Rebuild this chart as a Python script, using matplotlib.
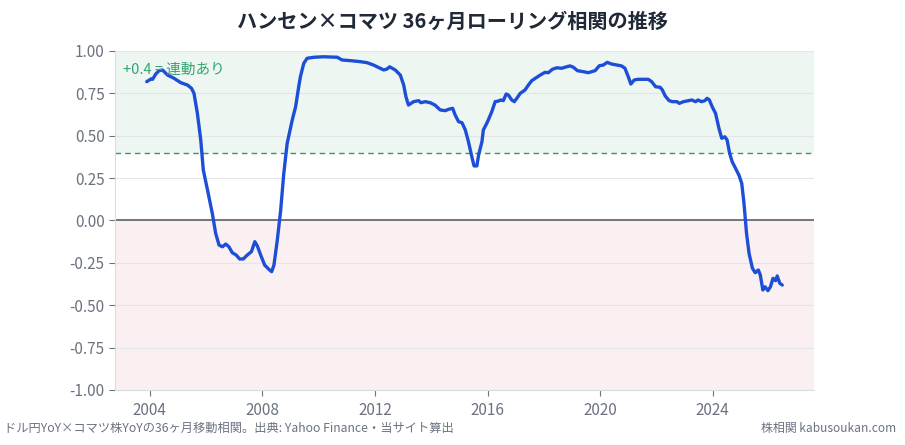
import matplotlib
matplotlib.use("Agg")
import matplotlib.pyplot as plt

plt.rcParams['font.family'] = ['Noto Sans CJK JP', 'DejaVu Sans']

title = "ハンセン×コマツ 36ヶ月ローリング相関の推移"
footer_left = "ドル円YoY×コマツ株YoYの36ヶ月移動相関。出典: Yahoo Finance・当サイト算出"
footer_right = "株相関 kabusoukan.com"
threshold_label = "+0.4 = 連動あり"

years = [
    2003.89, 2004.04, 2004.10, 2004.21, 2004.33, 2004.45, 2004.63, 2004.86, 2005.10, 2005.34,
    2005.48, 2005.57, 2005.69, 2005.81, 2005.90, 2006.05, 2006.22, 2006.34, 2006.46, 2006.58,
    2006.70, 2006.81, 2006.93, 2007.07, 2007.19, 2007.32, 2007.46, 2007.61, 2007.73, 2007.82,
    2007.94, 2008.08, 2008.23, 2008.33, 2008.41, 2008.53, 2008.65, 2008.76, 2008.88, 2009.06,
    2009.18, 2009.29, 2009.35, 2009.47, 2009.59, 2009.83, 2010.18, 2010.66, 2010.83, 2011.13,
    2011.48, 2011.72, 2011.95, 2012.19, 2012.31, 2012.43, 2012.52, 2012.72, 2012.90, 2013.02,
    2013.10, 2013.19, 2013.37, 2013.55, 2013.63, 2013.79, 2013.96, 2014.13, 2014.32, 2014.50,
    2014.61, 2014.76, 2014.85, 2014.97, 2015.09, 2015.21, 2015.32, 2015.44, 2015.52, 2015.62,
    2015.68, 2015.80, 2015.85, 2016.00, 2016.15, 2016.27, 2016.39, 2016.47, 2016.56, 2016.66,
    2016.74, 2016.86, 2016.95, 2017.04, 2017.16, 2017.33, 2017.45, 2017.57, 2017.75, 2017.87,
    2018.04, 2018.16, 2018.30, 2018.46, 2018.63, 2018.81, 2018.93, 2019.05, 2019.19, 2019.40,
    2019.58, 2019.70, 2019.82, 2019.97, 2020.11, 2020.25, 2020.41, 2020.59, 2020.76, 2020.88,
    2021.00, 2021.09, 2021.21, 2021.35, 2021.53, 2021.71, 2021.83, 2021.97, 2022.13, 2022.21,
    2022.31, 2022.45, 2022.57, 2022.73, 2022.81, 2022.96, 2023.14, 2023.26, 2023.39, 2023.48,
    2023.60, 2023.72, 2023.80, 2023.88, 2023.98, 2024.10, 2024.22, 2024.32, 2024.43, 2024.51,
    2024.60, 2024.69, 2024.84, 2024.93, 2025.03, 2025.11, 2025.20, 2025.29, 2025.41, 2025.51,
    2025.62, 2025.69, 2025.78, 2025.86, 2025.96, 2026.05, 2026.14, 2026.23, 2026.29, 2026.38,
    2026.47,
]

correlation = [
    0.819, 0.835, 0.833, 0.864, 0.884, 0.888, 0.858, 0.839, 0.813, 0.799,
    0.780, 0.750, 0.632, 0.475, 0.298, 0.180, 0.042, -0.076, -0.145, -0.155,
    -0.139, -0.155, -0.190, -0.204, -0.227, -0.227, -0.204, -0.184, -0.125, -0.150,
    -0.204, -0.263, -0.288, -0.302, -0.263, -0.115, 0.062, 0.278, 0.455, 0.593,
    0.671, 0.789, 0.848, 0.927, 0.957, 0.963, 0.966, 0.963, 0.947, 0.943,
    0.937, 0.931, 0.917, 0.898, 0.888, 0.894, 0.907, 0.888, 0.858, 0.799,
    0.730, 0.681, 0.701, 0.707, 0.695, 0.701, 0.695, 0.681, 0.652, 0.648,
    0.656, 0.662, 0.622, 0.583, 0.577, 0.534, 0.465, 0.376, 0.322, 0.322,
    0.386, 0.465, 0.534, 0.583, 0.642, 0.701, 0.705, 0.711, 0.707, 0.746,
    0.740, 0.711, 0.701, 0.721, 0.750, 0.770, 0.799, 0.825, 0.845, 0.858,
    0.874, 0.872, 0.892, 0.901, 0.898, 0.907, 0.912, 0.904, 0.884, 0.878,
    0.872, 0.878, 0.884, 0.913, 0.917, 0.933, 0.923, 0.917, 0.912, 0.898,
    0.848, 0.805, 0.829, 0.833, 0.833, 0.833, 0.819, 0.789, 0.786, 0.770,
    0.735, 0.707, 0.701, 0.701, 0.691, 0.701, 0.707, 0.711, 0.701, 0.711,
    0.701, 0.707, 0.721, 0.711, 0.671, 0.632, 0.544, 0.485, 0.494, 0.475,
    0.396, 0.347, 0.298, 0.268, 0.219, 0.101, -0.076, -0.194, -0.282, -0.308,
    -0.292, -0.322, -0.410, -0.391, -0.414, -0.391, -0.341, -0.355, -0.327, -0.370,
    -0.381,
]

y_ticks = [-1.0, -0.75, -0.5, -0.25, 0.0, 0.25, 0.5, 0.75, 1.0]
x_ticks = [2004, 2008, 2012, 2016, 2020, 2024]
threshold = 0.4

fig = plt.figure(figsize=(9.05, 4.45), dpi=100)
ax = fig.add_axes([0.127, 0.1236, 0.7725, 0.7618])

ax.axhspan(threshold, 1.0, color='#eef6f2', zorder=0, lw=0)
ax.axhspan(-1.0, 0.0, color='#fbf0f1', zorder=0, lw=0)
for t in y_ticks:
    ax.axhline(t, color='#e3e5e8', lw=0.8, zorder=1)
ax.axhline(0.0, color='#6b6b6b', lw=1.3, zorder=2)
ax.axhline(threshold, color='#2e9e5e', lw=1.0, ls=(0, (4, 3)), zorder=2)

ax.plot(years, correlation, color='#1d4ed8', lw=2.4, zorder=3,
        solid_joinstyle='round', solid_capstyle='round')

ax.text(2003.04, 0.888, threshold_label, color='#34a56f', fontsize=10.5,
        ha='left', va='center', zorder=4)

ax.set_ylim(-1.0, 1.0)
ax.margins(x=0.05)
ax.set_yticks(y_ticks)
ax.set_yticklabels([f"{t:.2f}" for t in y_ticks])
ax.set_xticks(x_ticks)
ax.set_xticklabels([str(t) for t in x_ticks])
ax.tick_params(colors='#6b7280', labelsize=11, length=4, width=0.8)
ax.tick_params(axis='x', pad=5)
for s in ['top', 'right']:
    ax.spines[s].set_visible(False)
for s in ['left', 'bottom']:
    ax.spines[s].set_color('#d9dce1')
    ax.spines[s].set_linewidth(0.8)

fig.text(0.5, 0.953, title, ha='center', va='center', fontsize=14.5,
         fontweight='bold', color='#1f2937')
fig.text(0.004, 0.038, footer_left, ha='left', va='center', fontsize=8.8, color='#6b7280')
fig.text(0.99, 0.038, footer_right, ha='right', va='center', fontsize=8.6, color='#6b7280')

fig.savefig('out.png', dpi=100)
